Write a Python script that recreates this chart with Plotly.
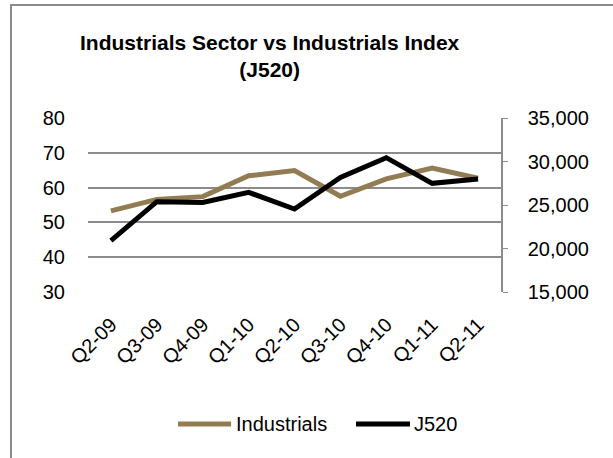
import plotly.graph_objects as go

quarters = ["Q2-09", "Q3-09", "Q4-09", "Q1-10", "Q2-10", "Q3-10", "Q4-10", "Q1-11", "Q2-11"]
industrials = [53.3, 56.6, 57.4, 63.4, 64.9, 57.5, 62.5, 65.6, 62.7]
j520 = [20900, 25380, 25300, 26460, 24540, 28180, 30440, 27490, 27990]

TAN = "#927C53"
GRID = "#8c8c8c"
FONT = "Liberation Sans, Arial, sans-serif"

W, H = 613, 458
L, R, T, B = 88, 112, 118, 166
PW, PH = W - L - R, H - T - B


def px(x):
    return (x - L) / PW


def py(y):
    return (H - B - y) / PH


fig = go.Figure()
fig.add_trace(go.Scatter(x=quarters, y=industrials, name="Industrials", mode="lines",
                         line=dict(color=TAN, width=5), yaxis="y"))
fig.add_trace(go.Scatter(x=quarters, y=j520, name="J520", mode="lines",
                         line=dict(color="#000000", width=5), yaxis="y2"))

shapes = [
    # chart frame
    dict(type="rect", xref="paper", yref="paper", x0=px(11), x1=px(700), y0=py(700), y1=py(5),
         line=dict(color="#8a8a8a", width=2), layer="below"),
    # legend keys
    dict(type="line", xref="paper", yref="paper", x0=px(178), x1=px(231), y0=py(424), y1=py(424),
         line=dict(color=TAN, width=5)),
    dict(type="line", xref="paper", yref="paper", x0=px(356), x1=px(410), y0=py(424), y1=py(424),
         line=dict(color="#000000", width=5)),
]

annotations = [
    dict(text="<b>Industrials Sector vs Industrials Index<br>(J520)</b>", xref="paper", yref="paper",
         x=px(270), y=py(56), xanchor="center", yanchor="middle", showarrow=False,
         font=dict(family=FONT, size=21, color="#000000")),
    dict(text="Industrials", xref="paper", yref="paper", x=px(234), y=py(424), xanchor="left",
         yanchor="middle", showarrow=False, font=dict(family=FONT, size=20, color="#000000")),
    dict(text="J520", xref="paper", yref="paper", x=px(412), y=py(424), xanchor="left",
         yanchor="middle", showarrow=False, font=dict(family=FONT, size=20, color="#000000")),
]

fig.update_layout(
    width=W, height=H,
    margin=dict(l=L, r=R, t=T, b=B),
    paper_bgcolor="white", plot_bgcolor="white",
    showlegend=False,
    font=dict(family=FONT, size=20, color="#000000"),
    shapes=shapes,
    annotations=annotations,
    xaxis=dict(tickangle=-45, showgrid=False, showline=False, ticks="", zeroline=False,
               tickfont=dict(size=20), range=[-0.5, 8.5], ticklabelstandoff=16),
    yaxis=dict(range=[30, 80], dtick=10, showgrid=True, gridcolor=GRID, gridwidth=1.5,
               zeroline=False, showline=False, ticks="", ticklabelstandoff=22),
    yaxis2=dict(range=[15000, 35000], dtick=5000, tickformat=",", overlaying="y", side="right",
                showgrid=False, zeroline=False, showline=True, linecolor=GRID, linewidth=1.5,
                ticks="outside", ticklen=5, tickcolor=GRID, ticklabelstandoff=16),
)

fig.write_html("out.html")
